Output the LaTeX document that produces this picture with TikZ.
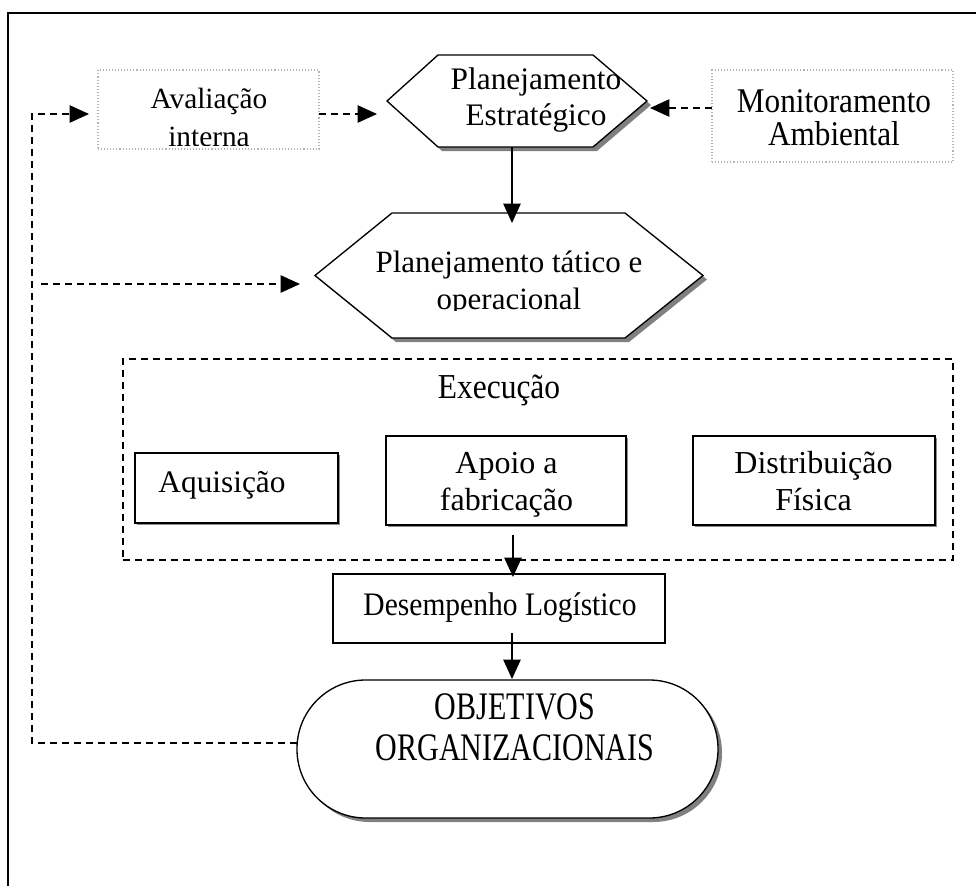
\documentclass[tikz,border=0pt]{standalone}
\usepackage{fontspec}
\setmainfont{Liberation Serif}
\newfontfamily\narrowserif[FakeStretch=0.9]{Liberation Serif}
\newfontfamily\tallserif[FakeStretch=0.77]{Liberation Serif}
\usetikzlibrary{arrows.meta,calc,shadows}

% hexagon outline around a node: #2/#3 = left/right inset of the flat top
\newcommand{\hexagonpath}[3]{(#1.west) -- ($(#1.north west)+(#2,0)$) -- ($(#1.north east)+(-#3,0)$) -- (#1.east) -- ($(#1.south east)+(-#3,0)$) -- ($(#1.south west)+(#2,0)$) -- cycle}

\begin{document}
\begin{tikzpicture}[x=0.75pt,y=-0.75pt,
  frame/.style={inner sep=0pt, outer sep=0pt},
  solidbox/.style={frame, draw, line width=1pt, fill=white},
  smallshadow/.style={drop shadow={shadow xshift=1.2pt, shadow yshift=-1.2pt, fill=black!45, opacity=1}},
  bigshadow/.style={drop shadow={shadow xshift=3pt, shadow yshift=-3pt, fill=black!50, opacity=1}},
  dotbox/.style={frame, draw=black!30, line width=0.8pt, dash pattern=on 0.8pt off 1.5pt},
  dashbox/.style={frame, draw, line width=1pt, dash pattern=on 5.5pt off 3.5pt},
  lbl/.style={anchor=base, inner sep=0pt, align=flush center, text width=300pt},
  arr/.style={line width=1pt, -{Triangle[length=14.5pt,width=13pt]}},
  darr/.style={arr, dash pattern=on 5.5pt off 3.5pt}]
\useasboundingbox (0,0) rectangle (976,886);

% outer frame
\draw[line width=1.5pt] (8,886) -- (8,13) -- (976,13);

% strategic planning hexagon
\node[frame, minimum width=195pt, minimum height=69pt] (hexA) at (517,101) {};
\draw[line width=1pt, fill=white, bigshadow] \hexagonpath{hexA}{51}{54};
\node[lbl, font=\fontsize{23.5pt}{27pt}\selectfont] (hexAt) at (536,89) {Planejamento\\Estratégico};

% internal evaluation
\node[dotbox, minimum width=165.75pt, minimum height=59.25pt] (aval) at (208.5,109.5) {};
\begin{scope}
  \clip (98,70) rectangle (319,145.5);
  \node[lbl, font=\fontsize{22pt}{29pt}\selectfont] (avalt) at (209,108) {Avaliação\\interna};
\end{scope}

% environmental monitoring
\node[dotbox, minimum width=180.75pt, minimum height=69pt] (monit) at (832.5,116) {};
\node[lbl, font=\narrowserif\fontsize{26pt}{25pt}\selectfont] (monitt) at (834,112) {Monitoramento\\Ambiental};

% tactical / operational planning hexagon
\node[frame, minimum width=291pt, minimum height=93.75pt] (hexB) at (509,275.5) {};
\draw[line width=1pt, fill=white, bigshadow] \hexagonpath{hexB}{77}{78};
\begin{scope}
  \clip (315,213) rectangle (703,310);
  \node[lbl, font=\fontsize{23.25pt}{28pt}\selectfont] (hexBt) at (509,272) {Planejamento tático e\\operacional};
\end{scope}

% execution group
\node[dashbox, minimum width=622.5pt, minimum height=150.75pt] (exec) at (538,459.5) {};
\node[lbl, font=\narrowserif\fontsize{26.25pt}{30pt}\selectfont] (exect) at (499,398) {Execução};

\node[solidbox, smallshadow, minimum width=152.25pt, minimum height=52.5pt] (aq) at (236.5,488) {};
\node[lbl, font=\fontsize{23.5pt}{27pt}\selectfont] (aqt) at (222,492) {Aquisição};

\node[solidbox, smallshadow, minimum width=180pt, minimum height=66.75pt] (apoio) at (506,480.5) {};
\node[lbl, font=\fontsize{24pt}{27.75pt}\selectfont] (apoiot) at (506.5,473) {Apoio a\\fabricação};

\node[solidbox, smallshadow, minimum width=181.5pt, minimum height=66.75pt] (dist) at (814,480.5) {};
\node[lbl, font=\fontsize{24pt}{27.75pt}\selectfont] (distt) at (813.5,473) {Distribuição\\Física};

% logistic performance
\node[solidbox, minimum width=249pt, minimum height=51.75pt] (desemp) at (499,608.5) {};
\node[lbl, font=\narrowserif\fontsize{24.6pt}{28pt}\selectfont] (desempt) at (500,615) {Desempenho Logístico};

% organisational objectives
\node[solidbox, bigshadow, rounded corners=51.5pt, minimum width=315.75pt, minimum height=103.5pt] (obj) at (507.5,749) {};
\node[lbl, font=\tallserif\fontsize{29.25pt}{30.75pt}\selectfont] (objt) at (515,719) {OBJETIVOS\\ORGANIZACIONAIS};

% connectors
\coordinate (tipA) at (512,223);
\draw[arr] (hexA.south -| tipA) -- (tipA);
\coordinate (tipC) at (513,577);
\draw[arr] ($(apoio.south -| tipC)+(0,10)$) -- (tipC);
\coordinate (tipD) at (512,679);
\draw[arr] ($(desemp.south -| tipD)+(0,-10)$) -- (tipD);
\coordinate (tipE) at (377,114);
\draw[darr] (aval.east |- tipE) -- (tipE);
\coordinate (tipF) at (650,108);
\draw[darr] (monit.west |- tipF) -- (tipF);

% feedback loop
\coordinate (loopB) at (32,743);
\coordinate (loopT) at (32,114);
\coordinate (tipG) at (89,114);
\draw[darr] (obj.west |- loopB) -- (loopB) -- (loopT) -- (tipG);
\coordinate (branchS) at (41,284);
\coordinate (tipH) at (300,284);
\draw[darr] (branchS) -- (tipH);
\end{tikzpicture}
\end{document}
